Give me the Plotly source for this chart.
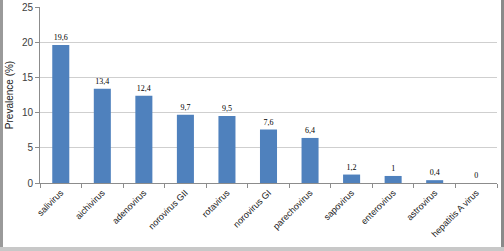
import plotly.graph_objects as go

categories = ["salivirus", "aichivirus", "adenovirus", "norovirus GII", "rotavirus",
              "norovirus GI", "parechovirus", "sapovirus", "enterovirus", "astrovirus",
              "hepatitis A virus"]
prevalence = [19.6, 13.4, 12.4, 9.7, 9.5, 7.6, 6.4, 1.2, 1.0, 0.4, 0.0]
value_labels = ["19,6", "13,4", "12,4", "9,7", "9,5", "7,6", "6,4", "1,2", "1", "0,4", "0"]
y_ticks = [0, 5, 10, 15, 20, 25]

L, R, T, B = 40, 7, 7, 68
PW, PH = 504 - L - R, 251 - T - B

fig = go.Figure()
fig.add_trace(go.Bar(
    x=categories, y=prevalence,
    marker=dict(color="#4F81BD", line=dict(width=0)),
    width=0.41,
    text=value_labels, textposition="outside", cliponaxis=False,
    textfont=dict(family="Liberation Serif", size=8, color="#000000"),
    hoverinfo="skip",
))

def px_x(p):
    return (p - L) / PW

def px_y(p):
    return (251 - B - p) / PH

fig.update_layout(
    width=504, height=251,
    margin=dict(l=L, r=R, t=T, b=B, autoexpand=False),
    paper_bgcolor="white", plot_bgcolor="white",
    showlegend=False,
    uniformtext=dict(minsize=8, mode="show"),
    font=dict(family="Liberation Sans", size=9, color="#333333"),
    shapes=[
        dict(type="rect", xref="paper", yref="paper", x0=px_x(0), x1=px_x(3), y0=px_y(251), y1=px_y(0),
             fillcolor="#9a9a9a", line=dict(width=0), layer="above"),
        dict(type="rect", xref="paper", yref="paper", x0=px_x(501), x1=px_x(504), y0=px_y(251), y1=px_y(0),
             fillcolor="#8a8a8a", line=dict(width=0), layer="above"),
        dict(type="rect", xref="paper", yref="paper", x0=px_x(0), x1=px_x(504), y0=px_y(251), y1=px_y(247),
             fillcolor="#c8c8c8", line=dict(width=0), layer="above"),
    ],
)
fig.update_xaxes(
    type="category", tickangle=-45, automargin=False,
    showline=True, linecolor="#8c8c8c", linewidth=1,
    ticks="outside", tickson="boundaries", ticklen=4, tickcolor="#8c8c8c",
    tickfont=dict(family="Liberation Sans", size=9, color="#222222"),
    showgrid=False,
)
fig.update_yaxes(
    range=[0, 25], tickvals=y_ticks, automargin=False,
    showline=True, linecolor="#8c8c8c", linewidth=1,
    ticks="outside", ticklen=4, tickcolor="#8c8c8c",
    showgrid=True, gridcolor="#cfcfcf", gridwidth=1,
    zeroline=False,
    tickfont=dict(family="Liberation Sans", size=10, color="#404040"),
    title=dict(text="Prevalence (%)", font=dict(family="Liberation Sans", size=10, color="#222222"), standoff=6),
)

fig.write_html("out.html", config={"displayModeBar": False},
               post_script="document.body.style.margin='0';document.body.style.padding='0';")
